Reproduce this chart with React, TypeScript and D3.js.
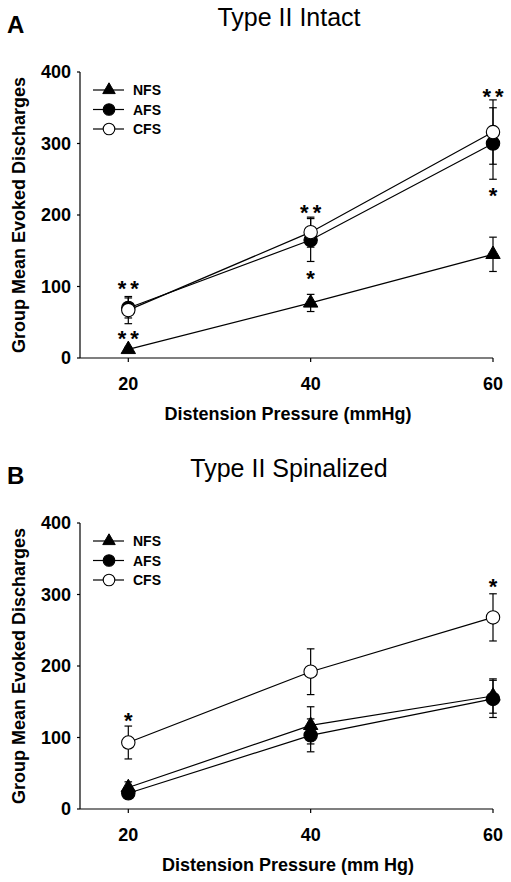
import React from "react";
import * as d3 from "d3";

const pressures = [20, 40, 60];
const seriesNames = ["NFS", "AFS", "CFS"];
const yTicks = [0, 100, 200, 300, 400];

// Panel A: Type II Intact
const intactNFS = [12, 77, 145];
const intactNFSErr = [3, 12, 24];
const intactAFS = [70, 165, 300];
const intactAFSErr = [14, 30, 50];
const intactCFS = [67, 176, 316];
const intactCFSErr = [19, 21, 45];
const intactStarX = [20, 20, 40, 40, 60, 60];
const intactStarY = [104, 34, 210, 118, 373, 235];
const intactStarText = ["**", "**", "**", "*", "**", "*"];

// Panel B: Type II Spinalized
const spinalNFS = [30, 117, 158];
const spinalNFSErr = [8, 26, 24];
const spinalAFS = [22, 103, 154];
const spinalAFSErr = [5, 23, 26];
const spinalCFS = [93, 192, 268];
const spinalCFSErr = [23, 32, 33];
const spinalStarX = [20, 60];
const spinalStarY = [131, 318];
const spinalStarText = ["*", "*"];

const FONT = "'Liberation Sans', Arial, Helvetica, sans-serif";

type Series = { name: string; values: number[]; errs: number[] };

const triPath = (side: number) =>
  d3.symbol().type(d3.symbolTriangle).size((Math.sqrt(3) / 4) * side * side)()!;

function Marker({ name, x, y, r }: { name: string; x: number; y: number; r: number }) {
  if (name === "NFS") {
    return <path d={triPath(r * 2.15)} transform={`translate(${x},${y})`} fill="#000" stroke="#000" strokeWidth={1} />;
  }
  return <circle cx={x} cy={y} r={r} fill={name === "AFS" ? "#000" : "#fff"} stroke="#000" strokeWidth={1.1} />;
}

function Panel({
  letter, title, xLabel, top, series, starX, starY, starText,
}: {
  letter: string; title: string; xLabel: string; top: number; series: Series[];
  starX: number[]; starY: number[]; starText: string[];
}) {
  const axisLeft = 80;
  const plotTop = top + 72;
  const plotBottom = top + 358;
  const x = d3.scaleLinear().domain([20, 60]).range([128.3, 493]);
  const y = d3.scaleLinear().domain([0, 400]).range([plotBottom, plotTop]);
  const line = d3.line<number>().x((_, i) => x(pressures[i])).y((d) => y(d));
  const cap = 3.8;
  const starFs = 22;
  const starGap = 4;
  return (
    <g fontFamily={FONT}>
      <text x={7} y={top + 33} fontSize={24} fontWeight="bold">{letter}</text>
      <text x={289} y={top + 26} fontSize={25} textAnchor="middle">{title}</text>
      {/* axes */}
      <line x1={axisLeft} x2={axisLeft} y1={plotTop} y2={plotBottom} stroke="#000" strokeWidth={1.2} />
      <line x1={axisLeft} x2={x(60)} y1={plotBottom} y2={plotBottom} stroke="#000" strokeWidth={1.2} />
      {yTicks.map((t) => (
        <g key={t}>
          <line x1={axisLeft - 3} x2={axisLeft} y1={y(t)} y2={y(t)} stroke="#000" strokeWidth={1.2} />
          <text x={axisLeft - 9} y={y(t)} dy="0.35em" textAnchor="end" fontSize={18} fontWeight="bold">{t}</text>
        </g>
      ))}
      {pressures.map((p) => (
        <g key={p}>
          <line x1={x(p)} x2={x(p)} y1={plotBottom} y2={plotBottom + 4} stroke="#000" strokeWidth={1.2} />
          <text x={x(p)} y={plotBottom + 32} textAnchor="middle" fontSize={18} fontWeight="bold">{p}</text>
        </g>
      ))}
      <text x={288} y={top + 420} textAnchor="middle" fontSize={18} fontWeight="bold">{xLabel}</text>
      <text transform={`translate(25,${(plotTop + plotBottom) / 2}) rotate(-90)`} textAnchor="middle" fontSize={18} fontWeight="bold">
        Group Mean Evoked Discharges
      </text>
      {/* series */}
      {series.map((s) => (
        <g key={s.name}>
          <path d={line(s.values)!} fill="none" stroke="#000" strokeWidth={1.2} />
          {s.values.map((v, i) => {
            const cx = x(pressures[i]);
            const e = s.errs[i];
            return (
              <g key={i} stroke="#000" strokeWidth={1.2}>
                <line x1={cx} x2={cx} y1={y(v - e)} y2={y(v + e)} />
                <line x1={cx - cap} x2={cx + cap} y1={y(v + e)} y2={y(v + e)} />
                <line x1={cx - cap} x2={cx + cap} y1={y(v - e)} y2={y(v - e)} />
              </g>
            );
          })}
          {s.values.map((v, i) => (
            <Marker key={i} name={s.name} x={x(pressures[i])} y={y(v)} r={6.7} />
          ))}
        </g>
      ))}
      {/* significance stars */}
      {starText.map((t, i) => (
        <text key={i} x={x(starX[i]) + (t.length > 1 ? starGap / 2 : 0)} y={y(starY[i]) + starFs * 0.57}
          textAnchor="middle" fontSize={starFs} fontWeight="bold" letterSpacing={t.length > 1 ? starGap : 0}>
          {t}
        </text>
      ))}
      {/* legend */}
      {seriesNames.map((n, i) => {
        const ly = plotTop + 18 + i * 19.5;
        return (
          <g key={n}>
            <line x1={93} x2={124} y1={ly} y2={ly} stroke="#000" strokeWidth={1.2} />
            <Marker name={n} x={109} y={ly} r={5.8} />
            <text x={133} y={ly} dy="0.36em" fontSize={14} fontWeight="bold">{n}</text>
          </g>
        );
      })}
    </g>
  );
}

export default function App() {
  const intact: Series[] = [
    { name: "NFS", values: intactNFS, errs: intactNFSErr },
    { name: "AFS", values: intactAFS, errs: intactAFSErr },
    { name: "CFS", values: intactCFS, errs: intactCFSErr },
  ];
  const spinal: Series[] = [
    { name: "NFS", values: spinalNFS, errs: spinalNFSErr },
    { name: "AFS", values: spinalAFS, errs: spinalAFSErr },
    { name: "CFS", values: spinalCFS, errs: spinalCFSErr },
  ];
  return (
    <svg width={511} height={882} style={{ position: "absolute", left: 0, top: 0, background: "#fff" }}>
      <rect width={511} height={882} fill="#fff" />
      <Panel letter="A" title="Type II Intact" xLabel="Distension Pressure (mmHg)" top={0} series={intact}
        starX={intactStarX} starY={intactStarY} starText={intactStarText} />
      <Panel letter="B" title="Type II Spinalized" xLabel="Distension Pressure (mm Hg)" top={451} series={spinal}
        starX={spinalStarX} starY={spinalStarY} starText={spinalStarText} />
    </svg>
  );
}
